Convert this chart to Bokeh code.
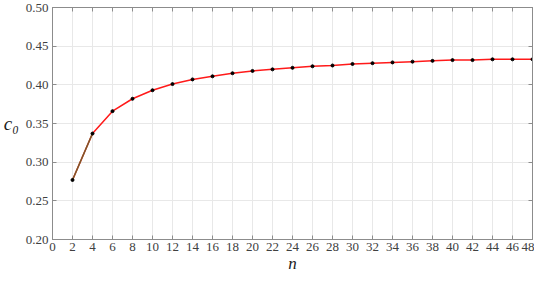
from bokeh.plotting import figure
from bokeh.models import FixedTicker, PrintfTickFormatter, LinearAxis, Range1d
from bokeh.embed import file_html
from bokeh.resources import INLINE

n_vals = [2, 4, 6, 8, 10, 12, 14, 16, 18, 20, 22, 24, 26, 28, 30, 32, 34, 36, 38, 40, 42, 44, 46, 48]
c0_vals = [0.277, 0.337, 0.366, 0.382, 0.393, 0.401, 0.407, 0.411, 0.415, 0.418, 0.420, 0.422,
           0.424, 0.425, 0.427, 0.428, 0.429, 0.430, 0.431, 0.432, 0.432, 0.433, 0.433, 0.433]
x_ticks = list(range(0, 49, 2))
y_ticks = [0.20, 0.25, 0.30, 0.35, 0.40, 0.45, 0.50]

FONT = "serif"
GRAY = "#8c8c8c"

p = figure(width=534, height=275, output_backend="svg", toolbar_location=None,
           x_range=Range1d(0, 48), y_range=Range1d(0.20, 0.50),
           min_border_left=30, min_border_right=2, min_border_top=7, min_border_bottom=0)

p.line(n_vals, c0_vals, line_color="#ff1a1a", line_width=1.5)
p.line(n_vals[:2], c0_vals[:2], line_color="#7a5a2a", line_width=1.5)
p.scatter(n_vals, c0_vals, size=3, color="black")

p.outline_line_color = GRAY
p.outline_line_width = 1

for ax in (p.xaxis[0], p.yaxis[0]):
    ax.major_tick_in = 4
    ax.major_tick_out = 0
    ax.minor_tick_in = 0
    ax.minor_tick_out = 0
    ax.axis_line_color = GRAY
    ax.major_tick_line_color = GRAY
    ax.major_label_text_font = FONT
    ax.major_label_text_font_size = "13px"
    ax.major_label_text_color = "#404040"
    ax.axis_label_text_font = FONT
    ax.axis_label_text_font_style = "italic"
    ax.axis_label_text_color = "#202020"

p.xaxis[0].ticker = FixedTicker(ticks=x_ticks)
p.yaxis[0].ticker = FixedTicker(ticks=y_ticks)
p.yaxis[0].formatter = PrintfTickFormatter(format="%.2f")
p.xaxis[0].axis_label = "n"
p.xaxis[0].axis_label_text_font_size = "17px"
p.xaxis[0].axis_label_standoff = 0
p.xaxis[0].major_label_standoff = 3
p.yaxis[0].axis_label = "c\u2080"
p.yaxis[0].axis_label_text_font_size = "19px"
p.yaxis[0].axis_label_orientation = "horizontal"
p.yaxis[0].axis_label_standoff = 4
p.yaxis[0].major_label_standoff = 4

for loc, tick in (("above", x_ticks), ("right", y_ticks)):
    ax = LinearAxis(ticker=FixedTicker(ticks=tick))
    ax.major_label_overrides = {t: "" for t in tick}
    ax.major_label_standoff = 0
    ax.major_tick_in = 4
    ax.major_tick_out = 0
    ax.minor_tick_in = 0
    ax.minor_tick_out = 0
    ax.axis_line_color = GRAY
    ax.major_tick_line_color = GRAY
    p.add_layout(ax, loc)

p.xgrid.ticker = FixedTicker(ticks=x_ticks)
p.ygrid.ticker = FixedTicker(ticks=y_ticks)
p.grid.grid_line_color = "#e8e8e8"
p.grid.grid_line_width = 1

open("out.html", "w").write(file_html(p, INLINE))
